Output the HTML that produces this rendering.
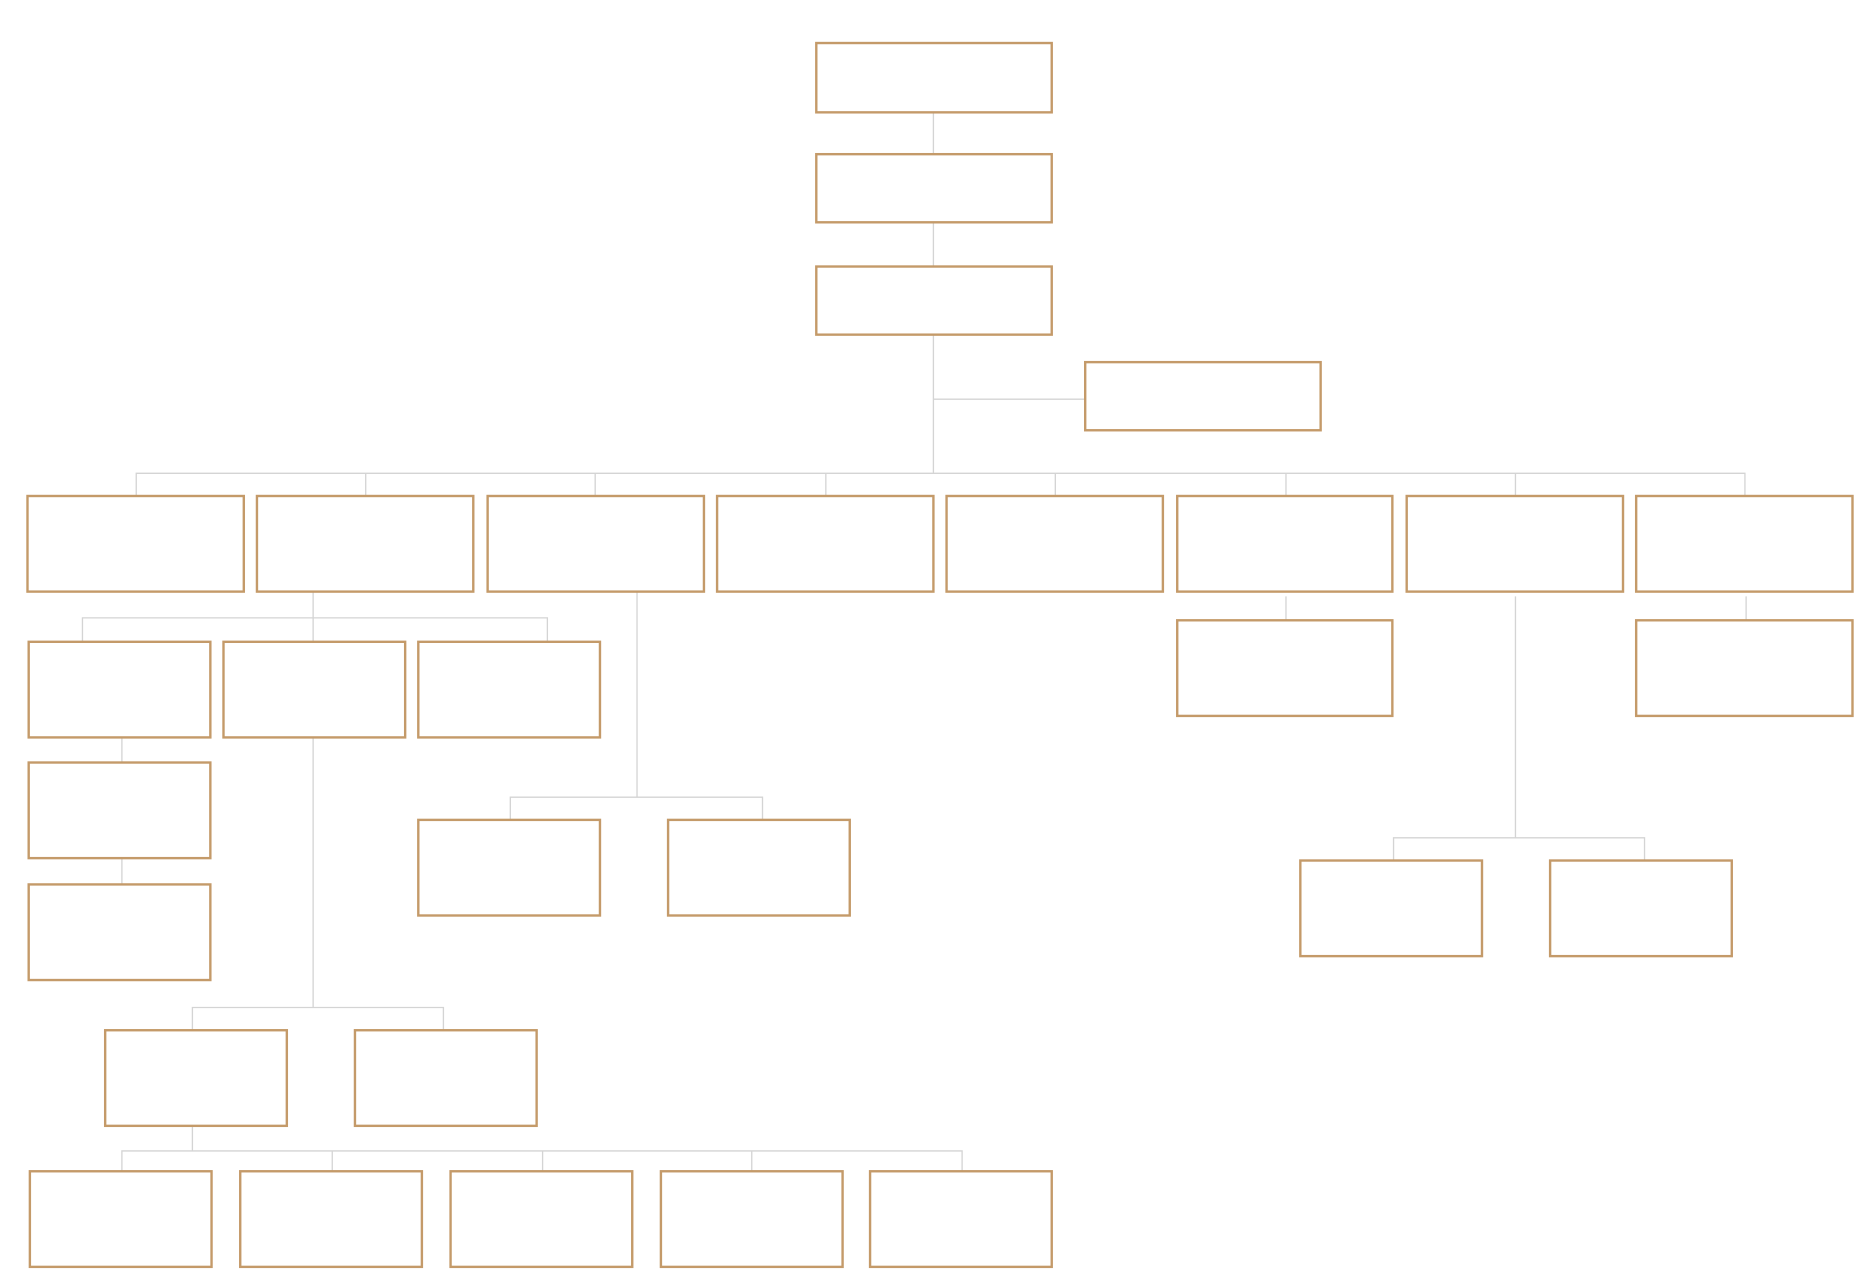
<!DOCTYPE html>
<html><head><meta charset="utf-8"><style>html,body{margin:0;padding:0;background:#fff}svg{display:block}</style></head>
<body>
<svg width="1874" height="1286" viewBox="0 0 1568 1076" preserveAspectRatio="none" xmlns="http://www.w3.org/2000/svg">
<g stroke="#d4d4d4" stroke-width="1.1" fill="none">
<path d="M781 94V129M781 186V223M781 280V396M781 334H908"/>
<path d="M114 415V396H1460V415M306 396V415M498 396V415M691 396V415M883 396V415M1076 396V415M1268 396V415"/>
<path d="M262 495V537M69 537V517H458V537"/>
<path d="M102 617V638M102 718V740"/>
<path d="M262 617V843M161 862V843H371V862"/>
<path d="M161 942V963M102 980V963H805V980M278 963V980M454 963V980M629 963V980"/>
<path d="M533 495V667M427 686V667H638V686"/>
<path d="M1076 499V519M1461 499V519"/>
<path d="M1268 499V701M1166 720V701H1376V720"/>
</g>
<g stroke="#c49a69" stroke-width="2" fill="#fff">
<rect x="683" y="36" width="197" height="58"/>
<rect x="683" y="129" width="197" height="57"/>
<rect x="683" y="223" width="197" height="57"/>
<rect x="908" y="303" width="197" height="57"/>
<rect x="23" y="415" width="181" height="80"/>
<rect x="215" y="415" width="181" height="80"/>
<rect x="408" y="415" width="181" height="80"/>
<rect x="600" y="415" width="181" height="80"/>
<rect x="792" y="415" width="181" height="80"/>
<rect x="985" y="415" width="180" height="80"/>
<rect x="1177" y="415" width="181" height="80"/>
<rect x="1369" y="415" width="181" height="80"/>
<rect x="24" y="537" width="152" height="80"/>
<rect x="187" y="537" width="152" height="80"/>
<rect x="350" y="537" width="152" height="80"/>
<rect x="24" y="638" width="152" height="80"/>
<rect x="24" y="740" width="152" height="80"/>
<rect x="88" y="862" width="152" height="80"/>
<rect x="297" y="862" width="152" height="80"/>
<rect x="25" y="980" width="152" height="80"/>
<rect x="201" y="980" width="152" height="80"/>
<rect x="377" y="980" width="152" height="80"/>
<rect x="553" y="980" width="152" height="80"/>
<rect x="728" y="980" width="152" height="80"/>
<rect x="350" y="686" width="152" height="80"/>
<rect x="559" y="686" width="152" height="80"/>
<rect x="985" y="519" width="180" height="80"/>
<rect x="1369" y="519" width="181" height="80"/>
<rect x="1088" y="720" width="152" height="80"/>
<rect x="1297" y="720" width="152" height="80"/>
</g>
</svg>
</body></html>
